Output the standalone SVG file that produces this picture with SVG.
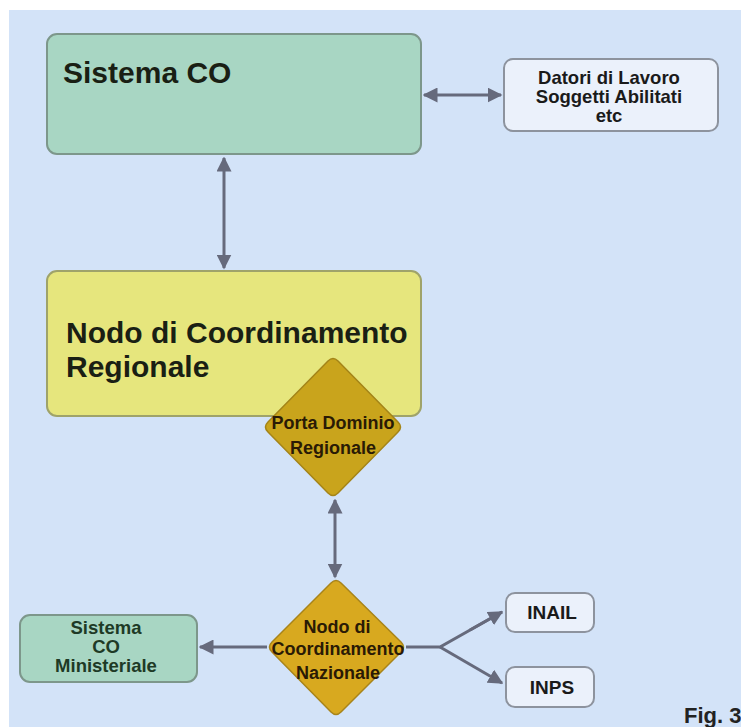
<svg xmlns="http://www.w3.org/2000/svg" width="741" height="727" viewBox="0 0 741 727">
<defs>
<marker id="ah" viewBox="0 0 10 10" refX="9" refY="5" markerWidth="5" markerHeight="5" orient="auto-start-reverse" markerUnits="strokeWidth">
<path d="M0,0 L10,5 L0,10 z" fill="#666a7c"/>
</marker>
<style>
.lbl{font-family:"Liberation Sans",Arial,sans-serif;font-weight:bold;}
.big{font-size:30px;fill:#1a1f14;}
.sm{font-size:18.5px;fill:#1a1a1a;text-anchor:middle;}
.dm{font-size:18px;fill:#2a1a05;text-anchor:middle;}
.con{stroke:#666a7c;stroke-width:3;fill:none;}
</style>
</defs>
<rect x="0" y="0" width="741" height="727" fill="#ffffff"/>
<rect x="9" y="10" width="732" height="717" fill="#d3e3f8"/>

<g id="connectors">
<line class="con" x1="424" y1="95" x2="501" y2="95" marker-start="url(#ah)" marker-end="url(#ah)"/>
<line class="con" x1="224" y1="158" x2="224" y2="268" marker-start="url(#ah)" marker-end="url(#ah)"/>
<line class="con" x1="335" y1="500" x2="335" y2="577" marker-start="url(#ah)" marker-end="url(#ah)"/>
<line class="con" x1="267" y1="647" x2="200" y2="647" marker-end="url(#ah)"/>
<polyline class="con" points="406,647 440,647 502,612"/>
<line class="con" x1="440" y1="647" x2="502" y2="683" marker-end="url(#ah)"/>
<line class="con" x1="470" y1="630" x2="502" y2="612" marker-end="url(#ah)"/>
</g>

<g id="sistema-co">
<rect x="47" y="34" width="374" height="120" rx="10" fill="#a8d6c3" stroke="#7d978b" stroke-width="2"/>
<text class="lbl big" x="63" y="83">Sistema CO</text>
</g>

<g id="datori">
<rect x="504" y="59" width="214" height="72" rx="9" fill="#ebf1fb" stroke="#8d939e" stroke-width="2"/>
<text class="lbl sm" x="609" y="84">Datori di Lavoro</text>
<text class="lbl sm" x="609" y="103">Soggetti Abilitati</text>
<text class="lbl sm" x="609" y="122">etc</text>
</g>

<g id="nodo-regionale">
<rect x="47" y="271" width="374" height="145" rx="10" fill="#e6e67d" stroke="#9fa36a" stroke-width="2"/>
<text class="lbl big" x="66" y="343">Nodo di Coordinamento</text>
<text class="lbl big" x="66" y="377">Regionale</text>
</g>

<g id="porta-dominio">
<path d="M328,361 Q333,356 338,361 L398,422 Q403,427 398,432 L338,493 Q333,498 328,493 L268,432 Q263,427 268,422 Z" fill="#c9a41c" stroke="#a48418" stroke-width="1.5"/>
<text class="lbl dm" x="333" y="429">Porta Dominio</text>
<text class="lbl dm" x="333" y="454">Regionale</text>
</g>

<g id="nodo-nazionale">
<path d="M331,583 Q336,578 341,583 L401,642 Q406,647 401,652 L341,712 Q336,717 331,712 L272,652 Q267,647 272,642 Z" fill="#d8a91f" stroke="#a8841a" stroke-width="1.5"/>
<text class="lbl dm" x="337" y="633">Nodo di</text>
<text class="lbl dm" x="338" y="655">Coordinamento</text>
<text class="lbl dm" x="338" y="679">Nazionale</text>
</g>

<g id="sistema-co-ministeriale">
<rect x="20" y="615" width="177" height="67" rx="10" fill="#a8d6c3" stroke="#7d978b" stroke-width="2"/>
<text class="lbl sm" x="106" y="634" style="fill:#1e3a26">Sistema</text>
<text class="lbl sm" x="106" y="653" style="fill:#1e3a26">CO</text>
<text class="lbl sm" x="106" y="672" style="fill:#1e3a26">Ministeriale</text>
</g>

<g id="inail">
<rect x="506" y="593" width="88" height="39" rx="9" fill="#ebf1fb" stroke="#8d939e" stroke-width="2"/>
<text class="lbl sm" x="552" y="619" style="font-size:19px">INAIL</text>
</g>

<g id="inps">
<rect x="506" y="667" width="88" height="40" rx="9" fill="#ebf1fb" stroke="#8d939e" stroke-width="2"/>
<text class="lbl sm" x="552" y="694" style="font-size:19px">INPS</text>
</g>

<text class="lbl" x="684" y="723" style="font-size:22px;fill:#222">Fig. 3</text>
</svg>
